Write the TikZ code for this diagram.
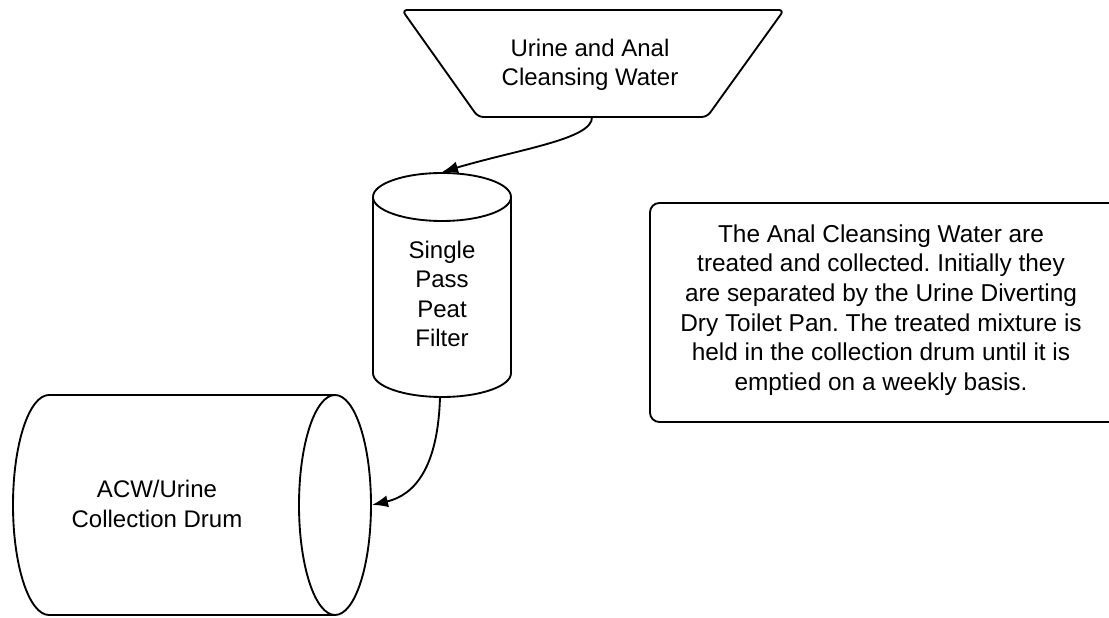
\documentclass[tikz,border=0pt]{standalone}
\usepackage{fontspec}
\setmainfont{Liberation Sans}
\usetikzlibrary{arrows.meta}
\tikzset{
  shapeline/.style={draw=black, line width=1.4pt, line join=round},
  lbl/.style={align=center, font=\fontsize{18}{21.9}\selectfont\frenchspacing, inner sep=0pt},
  notelbl/.style={align=center, font=\fontsize{18.3}{22.2}\selectfont\frenchspacing, inner sep=0pt},
  flow/.style={draw=black, line width=1.4pt, -{Latex[length=12pt,width=9pt]}}
}
\begin{document}
\begin{tikzpicture}[x=0.75pt,y=0.75pt]
\useasboundingbox (0,0) rectangle (1109,617);
% source trapezoid
\draw[shapeline, rounded corners=4pt] (402,607) -- (784,607) -- (707,500) -- (478,500) -- cycle;
\node[lbl] (src) at (590,552) {Urine and Anal\\Cleansing Water};
\coordinate (srcout) at (592,500);
% filter cylinder
\draw[shapeline] (442,420) ellipse [x radius=69, y radius=24];
\draw[shapeline] (373,420) -- (373,244) arc[start angle=180, end angle=360, x radius=69, y radius=24] -- (511,420);
\node[lbl] (filter) at (442,323) {Single\\Pass\\Peat\\Filter};
\coordinate (filtin) at (442,445);
\coordinate (filtout) at (440,220);
% collection drum
\draw[shapeline] (335,222) -- (49,222) arc[start angle=90, end angle=270, x radius=36, y radius=110] -- (335,2);
\draw[shapeline] (335,112) ellipse [x radius=36, y radius=110];
\node[lbl] (drum) at (157,113) {ACW/Urine\\Collection Drum};
\coordinate (drumin) at (372,112);
% note box
\draw[shapeline, rounded corners=7pt] (650,414) rectangle (1118,195);
\node[notelbl] (note) at (881,307) {The Anal Cleansing Water are\\treated and collected. Initially they\\are separated by the Urine Diverting\\Dry Toilet Pan. The treated mixture is\\held in the collection drum until it is\\emptied on a weekly basis.};
% connectors
\draw[flow] (srcout) .. controls (593,478) and (520,468) .. (filtin);
\draw[flow] (filtout) .. controls (438,150) and (415,122) .. (drumin);
\end{tikzpicture}
\end{document}
